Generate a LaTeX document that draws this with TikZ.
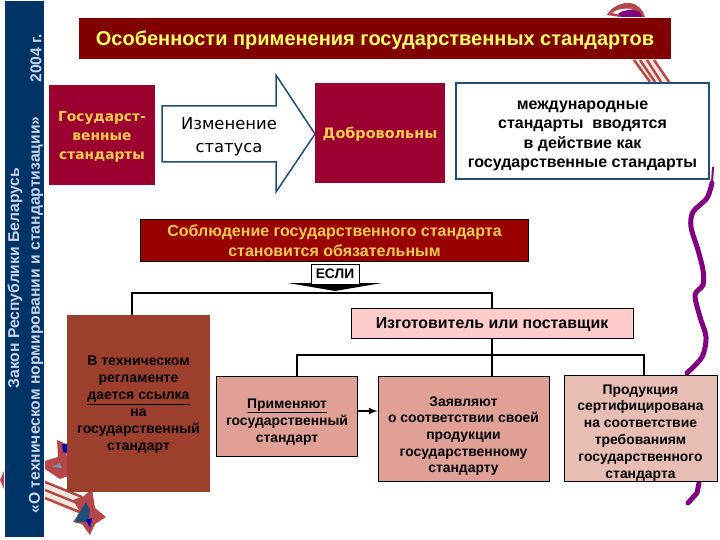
\documentclass[tikz,border=0pt]{standalone}
\usepackage{fontspec}
\setmainfont{Liberation Sans}
\newfontfamily\widefont{DejaVu Sans}
\usetikzlibrary{calc}

\definecolor{bandblue}{HTML}{003366}
\definecolor{bandtext}{HTML}{C4D2E8}
\definecolor{darkred}{HTML}{800000}
\definecolor{winered}{HTML}{9C0030}
\definecolor{signred}{HTML}{990000}
\definecolor{brickred}{HTML}{9C3F2C}
\definecolor{pinkone}{HTML}{FFCCCC}
\definecolor{pinktwo}{HTML}{E0A096}
\definecolor{pinkthree}{HTML}{E8BDB4}
\definecolor{steel}{HTML}{1F4E79}
\definecolor{goldtext}{HTML}{FFFF66}
\definecolor{ochretext}{HTML}{FFCC4D}
\definecolor{ribbon}{HTML}{B5474A}
\definecolor{cream}{HTML}{F0E8DE}
\definecolor{wave}{HTML}{800080}

\newcommand{\headroom}[1]{\rule{0pt}{#1}}

\tikzset{
  plate/.style={inner sep=0pt, align=center, font=\bfseries, text depth=0pt},
  redplate/.style={plate, text=ochretext},
  pinkplate/.style={plate, draw=black, line width=0.8pt, text=black},
  bandlabel/.style={rotate=90, anchor=west, text=bandtext, font=\bfseries\fontsize{15.7}{16}\selectfont},
  bus/.style={draw=black, line width=2pt},
  waveline/.style={draw=wave, line width=5pt, line cap=round, line join=round}
}

\begin{document}
\begin{tikzpicture}[x=1pt, y=-1pt]
  \useasboundingbox (0,0) rectangle (720,540);

  % clip art behind the plates
  \fill [ribbon] (607,15) .. controls (611,7) and (622,2) .. (630,3) .. controls (638,4) and (643,10) .. (645,17) -- (620,17) -- cycle;
  \fill [white] (612,13) .. controls (617,9) and (624,8) .. (632,9) -- (622,15) -- cycle;
  \fill [wave] (618,14) .. controls (624,9) and (632,9) .. (640,12) -- (642,17) -- (622,17) -- cycle;
  \fill [cream] (630,59) -- (654,59) -- (672,82) -- (650,82) -- cycle;
  \foreach \xa/\xb in {634/650, 640/655, 647/661, 654/669}
    \draw [ribbon, line width=2.4pt] (\xa,60) -- (\xb,82);

  \fill [ribbon] (0,480) -- (4,471) -- (4,489) -- cycle;
  \fill [ribbon] (57,440) -- (66,444) -- (68,476) -- (60,479) -- (45,469) -- (45,461) -- (58,457) -- cycle;
  \fill [blue!70!black] (62,444) -- (67,444) -- (67,453) -- (63,452) -- cycle;
  \fill [steel!60] (52,467) -- (60,463) -- (62,468) -- cycle;
  \fill [cream] (45,480) -- (85,497) -- (80,516) -- (45,500) -- cycle;
  \foreach \ya/\yb in {482/497, 490/505, 498/513}
    \draw [ribbon, line width=2.4pt] (45,\ya) -- (82,\yb);
  \fill [ribbon] (73,500) -- (84,496) -- (92,489) -- (95,508) -- (106,517) -- (95,524) -- (90,535) -- (82,524) -- (73,522) -- (80,512) -- cycle;
  \fill [steel] (78,515) -- (86,502) -- (90,510) -- (88,522) -- (75,522) -- cycle;
  \fill [blue!80!black] (86,520) -- (92,518) -- (90,528) -- cycle;

  \draw [waveline] plot [smooth] coordinates {(712,183) (707,198) (693,212) (691,227) (698,250) (703,270) (703,285) (695,295) (700,317) (706,337) (702,357) (687,373)};
  \draw [wave, line width=2pt] (713,167) -- (712,183);
  \draw [waveline] (699,483) -- (697,493) -- (688,503);

  % left band
  \fill [bandblue] (5,1) rectangle (44,537);
  \node [bandlabel] (lawname) at (15,392) {Закон Республики Беларусь};
  \node [bandlabel] (lawtitle) at (36,517) {«О техническом нормировании и стандартизации»};
  \node [bandlabel] (lawyear) at (36,86) {2004 г.};

  % top row
  \node [plate, fill=darkred, text=goldtext, minimum width=592pt, minimum height=41pt, font=\bfseries\fontsize{20}{20}\selectfont] (title) at (375,38.5) {Особенности применения государственных стандартов};
  \node [redplate, fill=winered, minimum width=106pt, minimum height=100pt, font=\widefont\bfseries\fontsize{13.8}{19}\selectfont] (state) at (102,135) {\headroom{12pt}Государст-\\венные\\стандарты};
  \draw [steel, line width=1.5pt, fill=white] (162,106) -- (276,106) -- (276,75) -- (315,134) -- (276,192) -- (276,162) -- (162,162) -- cycle;
  \node [align=center, inner sep=0pt, font=\widefont\fontsize{16.4}{23}\selectfont] (change) at (229,137) {Изменение\\статуса};
  \node [redplate, fill=winered, minimum width=130pt, minimum height=100pt, font=\widefont\bfseries\fontsize{14.4}{15}\selectfont] (free) at (380,133) {Добровольны};
  \node [plate, draw=steel, line width=1.5pt, fill=white, minimum width=253pt, minimum height=96pt, font=\bfseries\fontsize{16}{19.5}\selectfont] (intl) at (582.5,131) {\headroom{15pt}международные\\стандарты\ \ вводятся\\в действие как\\государственные стандарты};

  % condition
  \node [redplate, draw=black, line width=1.5pt, fill=signred, minimum width=388pt, minimum height=42pt, font=\bfseries\fontsize{16}{20}\selectfont] (comply) at (334.5,240.5) {Соблюдение государственного стандарта\\становится обязательным};
  \fill [black] (288,283) -- (382,283) -- (335,291) -- cycle;
  \node [plate, draw=black, line width=1pt, fill=white, minimum width=48pt, minimum height=20pt, font=\bfseries\fontsize{13.8}{14}\selectfont] (ifword) at (335,274) {ЕСЛИ};

  \coordinate (busleft) at (132,293);
  \coordinate (busright) at (492,293);
  \coordinate (forkleft) at (297,355);
  \coordinate (forkright) at (644,355);

  % lower plates
  \node [plate, fill=brickred, minimum width=143pt, minimum height=177pt, font=\bfseries\fontsize{14}{17}\selectfont] (tech) at (138.5,403.5) {В техническом\\регламенте\\\underline{дается ссылка}\\на\\государственный\\стандарт};
  \node [pinkplate, fill=pinkone, minimum width=282pt, minimum height=30pt, font=\bfseries\fontsize{15.9}{16}\selectfont] (maker) at (492,323) {Изготовитель или поставщик};
  \node [pinkplate, fill=pinktwo, minimum width=141pt, minimum height=80pt, font=\bfseries\fontsize{13.9}{17}\selectfont] (apply) at (287,416) {\headroom{18pt}\underline{Применяют}\\государственный\\стандарт};
  \node [pinkplate, fill=pinktwo, minimum width=171pt, minimum height=105pt, font=\bfseries\fontsize{13.9}{16.7}\selectfont] (declare) at (463.5,428.5) {\headroom{22pt}Заявляют\\о соответствии своей\\продукции\\государственному\\стандарту};
  \node [pinkplate, fill=pinkthree, minimum width=153pt, minimum height=106pt, font=\bfseries\fontsize{13.9}{16.8}\selectfont] (cert) at (640.5,428) {\headroom{16pt}Продукция\\сертифицирована\\на соответствие\\требованиям\\государственного\\стандарта};

  % connectors
  \draw [bus] (busleft |- tech.north) -- (busleft) -- (busright) -- (busright |- maker.north);
  \draw [bus] (maker.south) -- (maker.south |- declare.north);
  \draw [bus] (forkleft |- apply.north) -- (forkleft) -- (forkright) -- (forkright |- cert.north);
  \draw [bus, -latex] ($ (apply.east)+(0,-5) $) -- ($ (declare.west)+(0,-17.5) $);
\end{tikzpicture}
\end{document}
